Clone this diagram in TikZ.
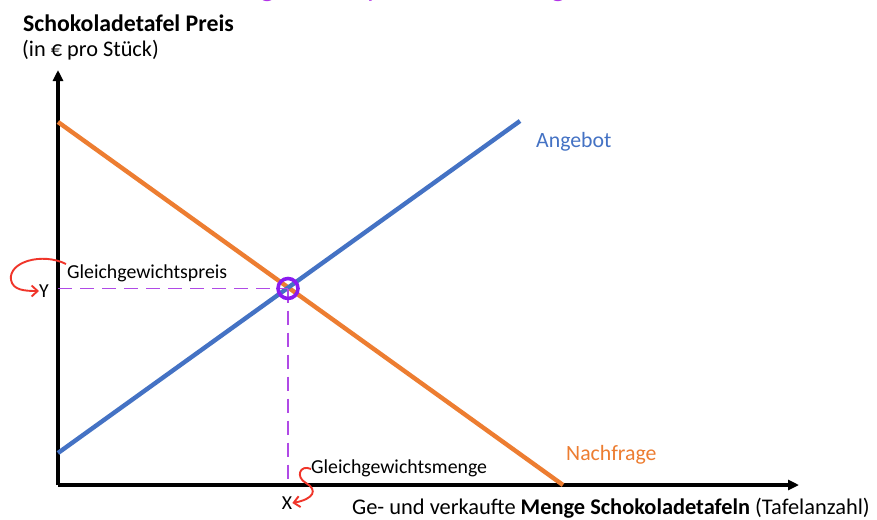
\documentclass[tikz,border=0pt]{standalone}
\usepackage{fontspec}
\setmainfont{Carlito}
\usetikzlibrary{arrows.meta}
\definecolor{angebot}{HTML}{4472C4}
\definecolor{nachfrage}{HTML}{ED7D31}
\definecolor{gleich}{HTML}{8B1AF0}
\definecolor{hilfslinie}{HTML}{B04AE6}
\definecolor{titel}{HTML}{B232E8}
\definecolor{pfeilrot}{HTML}{F0352A}
\tikzset{
  achse/.style={line width=3.6pt, -{Triangle[length=11pt,width=10pt]}},
  kurve/.style={line width=4.4pt},
  hilfe/.style={hilfslinie, line width=1.9pt, dash pattern=on 14pt off 8pt},
  hinweis/.style={pfeilrot, line width=1.9pt, -{Straight Barb[length=6pt,width=11pt]}},
  beschriftung/.style={inner sep=0pt, font=\fontsize{19.8}{23}\selectfont},
  kurvenname/.style={inner sep=0pt, font=\fontsize{21.8}{26}\selectfont},
}
\begin{document}
\begin{tikzpicture}[x=1pt,y=-1pt]
  \useasboundingbox (0,0) rectangle (877,519);
  \fill[white] (0,0) rectangle (877,519);

  % Ueberschrift, oben angeschnitten
  \begin{scope}
    \clip (0,0) rectangle (877,519);
    \node[anchor=base west, inner sep=0pt, text=titel,
          font=\fontsize{30}{36}\selectfont] (titel) at (184,-3.5)
      {Gleichgewichtspreis und -menge};
  \end{scope}

  % Achsen
  \coordinate (O) at (58,485);
  \coordinate (ytip) at (58,70);
  \coordinate (xtip) at (799,485);
  \draw[achse] (O) -- (ytip);
  \draw[achse] (O) -- (xtip);

  % Kurven
  \coordinate (n1) at (58,122);
  \coordinate (n2) at (563,485);
  \coordinate (a1) at (58,453);
  \coordinate (a2) at (520,121);
  \draw[kurve, nachfrage] (n1) -- (n2);
  \draw[kurve, angebot] (a1) -- (a2);

  % Gleichgewicht
  \coordinate (G) at (288,288.5);
  \coordinate (Gy) at (58,288.5);
  \coordinate (Gx) at (288,485);
  \draw[hilfe] (Gy) -- (G);
  \draw[hilfe] (G) -- (Gx);
  \draw[gleich, line width=3.6pt] (G) circle (10);

  % Achsenbeschriftungen
  \node[anchor=west, inner sep=0pt, font=\bfseries\fontsize{23.8}{28}\selectfont] (ytitel) at (23,23)
    {Schokoladetafel Preis};
  \node[anchor=west, inner sep=0pt, font=\fontsize{22.3}{26}\selectfont] (yeinheit) at (22,50)
    {(in € pro Stück)};
  \node[anchor=base west, inner sep=0pt, font=\fontsize{22.4}{27}\selectfont] (xtitel) at (352,514)
    {Ge- und verkaufte \textbf{Menge Schokoladetafeln} (Tafelanzahl)};

  % Kurvennamen
  \node[kurvenname, anchor=west, text=angebot] (angebot) at (536,142) {Angebot};
  \node[kurvenname, anchor=west, text=nachfrage] (nachfrage) at (566,455) {Nachfrage};

  % Gleichgewichtswerte
  \node[beschriftung, anchor=west] (preis) at (67,273) {Gleichgewichtspreis};
  \node[beschriftung, anchor=west] (menge) at (311,468) {Gleichgewichtsmenge};
  \node[beschriftung, anchor=center] (Y) at (44,291) {Y};
  \node[beschriftung, anchor=center] (X) at (287,503) {X};

  % Hinweispfeile
  \draw[hinweis] (preis.west) ++(-1,-9) .. controls (42,252) and (8,262) .. (11,280)
        .. controls (13,290) and (24,291) .. (Y.west);
  \draw[hinweis] (menge.west) ++(0,1) .. controls (300,464) and (295,477) .. (306,483)
        .. controls (318,490) and (314,499) .. (X.east);
\end{tikzpicture}
\end{document}
